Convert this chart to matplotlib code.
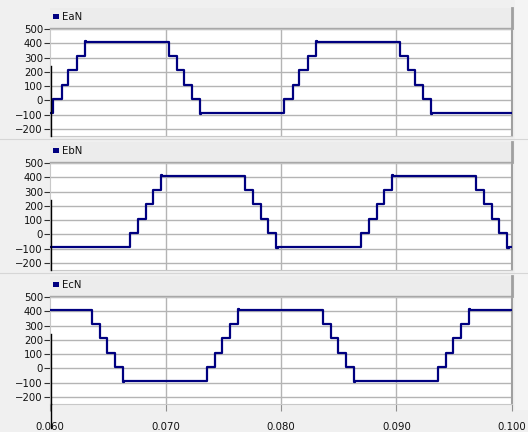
"""
Stepped phase-to-neutral voltages EaN, EbN, EcN over 0.060-0.100 s
"""

import matplotlib
matplotlib.use('Agg')
import matplotlib.pyplot as plt
from matplotlib.patches import Rectangle
from matplotlib.lines import Line2D

################################################################################
# Step change times (s) and levels for each phase
EaN_t = [0.0600, 0.0603, 0.0610, 0.0616, 0.0623, 0.0630, 0.0631, 0.0703, 0.0710,
         0.0716, 0.0723, 0.0730, 0.0731, 0.0803, 0.0810, 0.0816, 0.0823, 0.0830,
         0.0831, 0.0903, 0.0910, 0.0916, 0.0923, 0.0930, 0.0931, 0.1000]
EaN_v = [-90, 10, 110, 210, 310, 418, 410, 310, 210, 110, 10, -98, -90,
         10, 110, 210, 310, 418, 410, 310, 210, 110, 10, -98, -90, -90]

EbN_t = [0.0600, 0.0669, 0.0676, 0.0683, 0.0689, 0.0696, 0.0697, 0.0769, 0.0776,
         0.0783, 0.0789, 0.0796, 0.0797, 0.0869, 0.0876, 0.0883, 0.0889, 0.0896,
         0.0897, 0.0969, 0.0976, 0.0983, 0.0989, 0.0996, 0.0997, 0.1000]
EbN_v = [-90, 10, 110, 210, 310, 418, 410, 310, 210, 110, 10, -98, -90,
         10, 110, 210, 310, 418, 410, 310, 210, 110, 10, -98, -90, -90]

EcN_t = [0.0600, 0.0636, 0.0643, 0.0649, 0.0656, 0.0663, 0.0664, 0.0736, 0.0743,
         0.0749, 0.0756, 0.0763, 0.0764, 0.0836, 0.0843, 0.0849, 0.0856, 0.0863,
         0.0864, 0.0936, 0.0943, 0.0949, 0.0956, 0.0963, 0.0964, 0.1000]
EcN_v = [410, 310, 210, 110, 10, -98, -90, 10, 110, 210, 310, 418, 410,
         310, 210, 110, 10, -98, -90, 10, 110, 210, 310, 418, 410, 410]

names = ['EaN', 'EbN', 'EcN']
y_ticks = [-200, -100, 0, 100, 200, 300, 400, 500]
x_ticks = [0.060, 0.070, 0.080, 0.090, 0.100]
x_labels = ['0.060', '0.070', '0.080', '0.090', '0.100']

################################################################################
W, H = 528, 432
line_clr = '#000080'
grid_clr = '#b4b4b4'
bg_clr = '#f0f0f0'
hdr_clr = '#ececec'
plt.rcParams['font.family'] = ['DejaVu Sans']
plt.rcParams['font.size'] = 7.3

fig = plt.figure(figsize=(W/100, H/100), dpi=100, facecolor=bg_clr)

def fx(x):
    return x / W

def fy(y):
    return 1 - y / H

def add_rect(x0, y0, x1, y1, **kw):
    # rectangle given in pixel coords (top-left origin)
    fig.patches.append(Rectangle((fx(x0), fy(y1)), fx(x1) - fx(x0), fy(y0) - fy(y1),
                                 transform=fig.transFigure, **kw))

def add_line(xs, ys, **kw):
    fig.lines.append(Line2D([fx(x) for x in xs], [fy(y) for y in ys],
                            transform=fig.transFigure, **kw))

# Pixel extents of each panel: header top, plot top, plot bottom
panels = [(8, 29, 136), (142, 163, 270), (276, 297, 404)]
x_left, x_right = 50, 512
series = [(EaN_t, EaN_v), (EbN_t, EbN_v), (EcN_t, EcN_v)]

# light strip on the far right and separators between panels
add_rect(515, 0, W, 410, facecolor='#f4f4f4', edgecolor='none', zorder=-2)
for y in [139, 273]:
    add_line([0, W], [y, y], color='#d6d6d6', lw=0.8, zorder=-1)

for i, ((h_top, p_top, p_bot), (t, v), name) in enumerate(zip(panels, series, names)):
    # header strip with legend entry
    add_rect(x_left, h_top, x_right, p_top - 1, facecolor=hdr_clr, edgecolor='none')
    add_line([x_left, x_right], [p_top - 1, p_top - 1], color='#a8a8a8', lw=1)
    add_line([x_right, x_right], [h_top, p_top - 1], color='#a0a0a0', lw=2)
    add_rect(x_left + 3, h_top + 6, x_left + 9, h_top + 11, facecolor=line_clr, edgecolor='none')
    fig.text(fx(x_left + 12), fy(h_top + 8.5), name, ha='left', va='center', color='#101010')

    ax = fig.add_axes([fx(x_left), fy(p_bot), fx(x_right) - fx(x_left), fy(p_top) - fy(p_bot)])
    ax.set_facecolor('white')
    ax.step(t, v, where='post', color=line_clr, lw=1.6, zorder=3)
    ax.set_xlim(0.060, 0.100)
    ax.set_ylim(-250, 500)
    ax.set_yticks(y_ticks)
    ax.set_xticks(x_ticks)
    for yt in y_ticks:
        ax.axhline(yt, color=grid_clr, lw=1, zorder=1)
    for xt in x_ticks[1:-1]:
        ax.axvline(xt, color=grid_clr, lw=1, zorder=1)
    ax.tick_params(axis='y', length=4, width=0.8, color='#303030', pad=1, labelcolor='#101010')
    if i == 2:
        ax.set_xticklabels(x_labels)
        ax.tick_params(axis='x', length=5, width=0.8, color='#909090', pad=8, labelcolor='#101010')
    else:
        ax.tick_params(axis='x', length=0, labelbottom=False)
    for side in ['top', 'left', 'bottom']:
        ax.spines[side].set_color('#c8c8c8')
        ax.spines[side].set_linewidth(0.8)
    ax.spines['right'].set_color('#a0a0a0')
    ax.spines['right'].set_linewidth(1.5)
    # partial black axis line on the left edge
    ax.plot([0.0601, 0.0601], [240, -250], color='black', lw=1, zorder=4, clip_on=False)

# black axis line runs on through the bottom tick label
add_line([x_left + 1, x_left + 1], [404, 428], color='black', lw=1)

plt.savefig('out.png', dpi=100, facecolor=bg_clr)
